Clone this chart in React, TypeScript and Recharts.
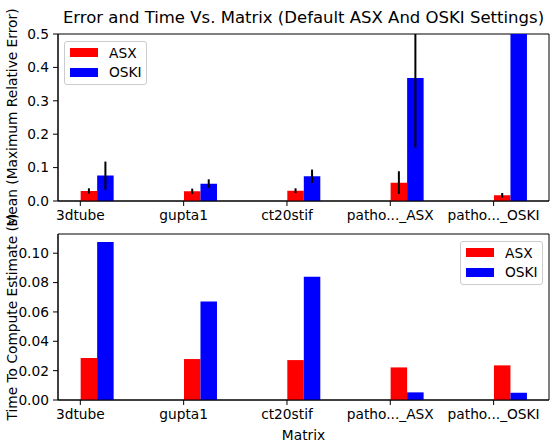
import React from "react";
import { Bar, BarChart, CartesianGrid, ErrorBar, Legend, XAxis, YAxis } from "recharts";

const categories = ["3dtube", "gupta1", "ct20stif", "patho..._ASX", "patho..._OSKI"];

// mean of the maximum relative error, with its spread
const errorAsx = [0.03, 0.029, 0.031, 0.055, 0.017];
const errorOski = [0.076, 0.052, 0.074, 0.368, 0.75];
const errorSpreadAsx = [0.008, 0.008, 0.007, 0.034, 0.007];
const errorSpreadOski = [0.042, 0.013, 0.02, 0.208, 0.1];

// seconds to compute the estimate
const timeAsx = [0.0286, 0.0279, 0.0272, 0.0222, 0.0236];
const timeOski = [0.1077, 0.0671, 0.0839, 0.0052, 0.005];

const errorTicks = [0, 0.1, 0.2, 0.3, 0.4, 0.5];
const timeTicks = [0, 0.02, 0.04, 0.06, 0.08, 0.1];
const xTicks = [0, 1, 2, 3, 4];

const ASX = "#ff0000";
const OSKI = "#0000ff";
const FONT = "'DejaVu Sans', sans-serif";
const tickStyle = { fill: "#000", fontSize: 13.75, fontFamily: FONT };
const X_DOMAIN: [number, number] = [-0.216, 4.536];
const ERR_MAX = 0.5;
const TIME_MAX = 0.1131;

// error bars are cut at the top of the axes, like the bars themselves
const clampErr = (mean: number, spread: number): [number, number] => {
  const lo = Math.min(mean - spread, ERR_MAX);
  const hi = Math.min(mean + spread, ERR_MAX);
  return [mean - lo, hi - mean];
};

const errorData = categories.map((name, i) => ({
  idx: i,
  name,
  asx: errorAsx[i],
  oski: errorOski[i],
  asxErr: clampErr(errorAsx[i], errorSpreadAsx[i]),
  oskiErr: clampErr(errorOski[i], errorSpreadOski[i]),
}));

const timeData = categories.map((name, i) => ({
  idx: i,
  name,
  asx: timeAsx[i],
  oski: timeOski[i],
}));

function LegendBox() {
  const rows = [
    { label: "ASX", color: ASX },
    { label: "OSKI", color: OSKI },
  ];
  return (
    <div
      style={{
        boxSizing: "border-box",
        width: 83,
        height: 44,
        border: "1px solid #cccccc",
        borderRadius: 3,
        background: "#fff",
        padding: "1px 0 0 5px",
        fontFamily: FONT,
        fontSize: 13.75,
        color: "#000",
      }}
    >
      {rows.map((r) => (
        <div key={r.label} style={{ display: "flex", alignItems: "center", height: 19.5 }}>
          <span style={{ width: 28, height: 9, background: r.color, marginRight: 11 }} />
          <span style={{ whiteSpace: "nowrap" }}>{r.label}</span>
        </div>
      ))}
    </div>
  );
}

// two empty slots ahead of the real bars so each pair starts at its tick
function spacers() {
  return [
    <Bar key="s1" dataKey="pad1" fill="none" legendType="none" isAnimationActive={false} />,
    <Bar key="s2" dataKey="pad2" fill="none" legendType="none" isAnimationActive={false} />,
  ];
}

// box around the plot area: lines on its four edges
function frame() {
  return (
    <CartesianGrid
      stroke="#000"
      strokeWidth={1}
      horizontalCoordinatesGenerator={({ offset }: any) => [offset.top, offset.top + offset.height]}
      verticalCoordinatesGenerator={({ offset }: any) => [offset.left, offset.left + offset.width]}
    />
  );
}

export default function App() {
  return (
    <div style={{ position: "fixed", left: 0, top: 0, width: 556, height: 443, background: "#fff" }}>
      <style>{"body{margin:0;overflow:hidden}"}</style>
      <div
        style={{
          position: "absolute",
          left: 58,
          width: 491,
          top: 8,
          textAlign: "center",
          fontFamily: FONT,
          fontSize: 16.5,
          lineHeight: "20px",
          color: "#000",
          whiteSpace: "nowrap",
        }}
      >
        Error and Time Vs. Matrix (Default ASX And OSKI Settings)
      </div>

      <div style={{ position: "absolute", left: 0, top: 0 }}>
        <BarChart
          width={556}
          height={235}
          data={errorData}
          margin={{ top: 34, right: 7, bottom: 0, left: 0 }}
          barGap={0}
          barSize={16.5}
        >
          {frame()}
          <XAxis
            type="number"
            dataKey="idx"
            domain={X_DOMAIN}
            ticks={xTicks}
            interval={0}
            tickFormatter={(v) => categories[v]}
            height={34}
            tick={tickStyle}
            tickSize={5}
            tickMargin={4}
            tickLine={{ stroke: "#000" }}
            axisLine={{ stroke: "#000" }}
          />
          <YAxis
            type="number"
            domain={[0, ERR_MAX]}
            ticks={errorTicks}
            allowDataOverflow
            tickFormatter={(v) => v.toFixed(1)}
            width={58}
            tick={tickStyle}
            tickSize={5}
            tickMargin={4}
            tickLine={{ stroke: "#000" }}
            axisLine={{ stroke: "#000" }}
            label={{
              value: "Mean (Maximum Relative Error)",
              angle: -90,
              position: "insideLeft",
              offset: 12,
              style: { textAnchor: "middle", fill: "#000", fontSize: 13.75, fontFamily: FONT },
            }}
          />
          {spacers()}
          <Bar dataKey="asx" name="ASX" fill={ASX} isAnimationActive={false}>
            <ErrorBar dataKey="asxErr" width={0} stroke="#000" strokeWidth={2} direction="y" />
          </Bar>
          <Bar dataKey="oski" name="OSKI" fill={OSKI} isAnimationActive={false}>
            <ErrorBar dataKey="oskiErr" width={0} stroke="#000" strokeWidth={2} direction="y" />
          </Bar>
          <Legend
            layout="vertical"
            align="center"
            verticalAlign="middle"
            content={() => <LegendBox />}
            wrapperStyle={{ left: 64, top: 41, width: "auto", height: "auto" }}
          />
        </BarChart>
      </div>

      <div style={{ position: "absolute", left: 0, top: 200 }}>
        <BarChart
          width={556}
          height={243}
          data={timeData}
          margin={{ top: 34, right: 7, bottom: 0, left: 0 }}
          barGap={0}
          barSize={16.5}
        >
          {frame()}
          <XAxis
            type="number"
            dataKey="idx"
            domain={X_DOMAIN}
            ticks={xTicks}
            interval={0}
            tickFormatter={(v) => categories[v]}
            height={43}
            tick={tickStyle}
            tickSize={5}
            tickMargin={4}
            tickLine={{ stroke: "#000" }}
            axisLine={{ stroke: "#000" }}
            label={{
              value: "Matrix",
              position: "insideBottom",
              offset: 3,
              style: { fill: "#000", fontSize: 13.75, fontFamily: FONT },
            }}
          />
          <YAxis
            type="number"
            domain={[0, TIME_MAX]}
            ticks={timeTicks}
            tickFormatter={(v) => v.toFixed(2)}
            width={58}
            tick={tickStyle}
            tickSize={5}
            tickMargin={4}
            tickLine={{ stroke: "#000" }}
            axisLine={{ stroke: "#000" }}
            label={{
              value: "Time To Compute Estimate (s)",
              angle: -90,
              position: "insideLeft",
              offset: 12,
              style: { textAnchor: "middle", fill: "#000", fontSize: 13.75, fontFamily: FONT },
            }}
          />
          {spacers()}
          <Bar dataKey="asx" name="ASX" fill={ASX} isAnimationActive={false} />
          <Bar dataKey="oski" name="OSKI" fill={OSKI} isAnimationActive={false} />
          <Legend
            layout="vertical"
            align="center"
            verticalAlign="middle"
            content={() => <LegendBox />}
            wrapperStyle={{ left: 460, top: 41, width: "auto", height: "auto" }}
          />
        </BarChart>
      </div>
    </div>
  );
}
